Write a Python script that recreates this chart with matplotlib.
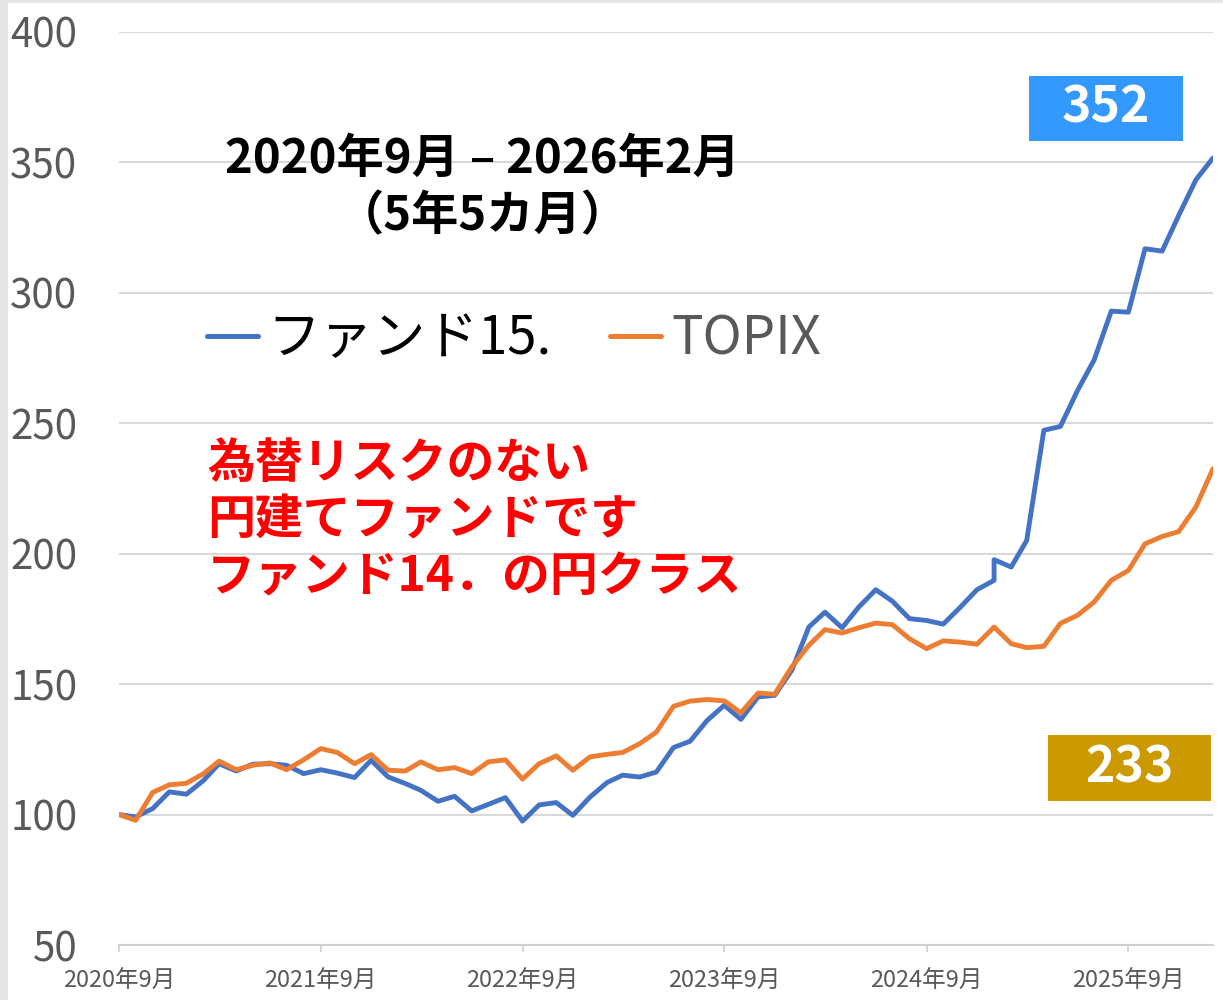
import matplotlib
matplotlib.use("Agg")
import matplotlib.pyplot as plt
import numpy as np
import pandas as pd
from matplotlib.lines import Line2D
from matplotlib.patches import Rectangle

plt.rcParams['font.family'] = ['Noto Sans CJK JP', 'DejaVu Sans']

# monthly points Sep 2020 - Feb 2026, Jan 2025 appears twice in the source data
dates = pd.date_range("2020-09-01", "2026-02-01", freq="MS")
dates = dates.insert(53, pd.Timestamp("2025-01-01"))

fund15 = [
    100.0, 99.1, 102.3, 108.7, 107.8, 113.1, 119.5, 116.7, 119.3, 119.5,
    118.9, 115.7, 117.2, 115.9, 114.2, 120.8, 114.4, 111.9, 109.3, 105.1,
    107.0, 101.4, 103.9, 106.5, 97.5, 103.7, 104.6, 99.7, 106.7, 112.3,
    115.1, 114.4, 116.3, 125.7, 128.1, 136.1, 141.9, 136.5, 145.1, 145.7,
    155.3, 171.9, 177.6, 171.6, 179.5, 186.2, 181.8, 175.1, 174.4, 173.0,
    179.5, 186.2, 189.8, 197.7, 194.9, 205.1, 247.3, 248.8, 262.6, 274.3,
    293.0, 292.6, 316.9, 316.0, 329.7, 343.3, 351.7,
]
topix = [
    100.0, 97.8, 108.5, 111.4, 112.0, 115.7, 120.5, 117.2, 118.9, 119.8,
    117.2, 121.0, 125.3, 123.8, 119.5, 123.0, 117.0, 116.7, 120.2, 117.2,
    118.0, 115.7, 120.2, 121.0, 113.6, 119.5, 122.5, 117.0, 122.1, 123.1,
    123.8, 127.2, 131.6, 141.5, 143.5, 144.1, 143.6, 139.0, 146.6, 146.1,
    156.6, 164.9, 170.9, 169.6, 171.6, 173.4, 172.8, 167.4, 163.6, 166.6,
    166.1, 165.3, 171.9, 171.9, 165.5, 164.0, 164.5, 173.3, 176.4, 181.5,
    189.8, 193.6, 203.8, 206.6, 208.5, 217.9, 232.6,
]

tick_dates = ["2020-09-01", "2021-09-01", "2022-09-01", "2023-09-01", "2024-09-01", "2025-09-01"]
tick_labels = ["2020年9月", "2021年9月", "2022年9月", "2023年9月", "2024年9月", "2025年9月"]
y_ticks = [50, 100, 150, 200, 250, 300, 350, 400]

series_names = ["ファンド15.", "TOPIX"]
blue = "#4472C4"
orange = "#ED7D31"
gray_txt = "#595959"

fig = plt.figure(figsize=(12.23, 10), dpi=100)
W, H = 1223, 1000

# thin gray frame on the left / top like the screenshot
fig.patches.append(Rectangle((0, 0), 8 / W, 1, transform=fig.transFigure,
                             facecolor="#e6e6e6", edgecolor="none", zorder=0))
fig.patches.append(Rectangle((0, 1 - 3 / H), 1, 3 / H, transform=fig.transFigure,
                             facecolor="#e6e6e6", edgecolor="none", zorder=0))

ax = fig.add_axes([119 / W, 55 / H, 1094 / W, 913 / H])

ax.plot(dates, fund15, color=blue, lw=3.5, solid_joinstyle="round", solid_capstyle="round", zorder=3)
ax.plot(dates, topix, color=orange, lw=3.5, solid_joinstyle="round", solid_capstyle="round", zorder=3)

ax.set_xlim(dates[0], dates[-1])
ax.set_ylim(50, 400)
ax.set_yticks(y_ticks)
ax.yaxis.grid(True, color="#d9d9d9", lw=1.5)
ax.set_axisbelow(True)

ax.set_xticks(pd.to_datetime(tick_dates))
ax.set_xticklabels(tick_labels)

for s in ["top", "right", "left"]:
    ax.spines[s].set_visible(False)
ax.spines["bottom"].set_color("#d0d0d0")
ax.spines["bottom"].set_linewidth(1.5)
ax.spines["bottom"].set_zorder(2)

ax.tick_params(axis="y", length=0, pad=30, labelsize=29, labelcolor=gray_txt)
ax.tick_params(axis="x", length=5, width=1.2, color="#d0d0d0", pad=13,
               labelsize=17, labelcolor=gray_txt)

# period title
ax.text(0.332, 0.83, "2020年9月 – 2026年2月\n（5年5カ月）", transform=ax.transAxes,
        ha="center", va="center", fontsize=34, fontweight="bold", color="black",
        linespacing=1.25)

# legend
handles = [Line2D([0], [0], color=blue, lw=3.6, solid_capstyle="round"),
           Line2D([0], [0], color=orange, lw=3.6, solid_capstyle="round")]
leg = ax.legend(handles, series_names, loc="center left", bbox_to_anchor=(0.08, 0.664),
                ncol=2, frameon=False, fontsize=38, handlelength=0.97,
                handletextpad=0.19, columnspacing=1.1, borderpad=0, borderaxespad=0)
leg.get_texts()[0].set_color("black")
leg.get_texts()[1].set_color(gray_txt)

# red note
ax.text(0.0804, 0.4655, "為替リスクのない\n円建てファンドです\nファンド14．の円クラス",
        transform=ax.transAxes, ha="left", va="center", fontsize=34.5,
        fontweight="bold", color="#FF0000", linespacing=1.2)

# end value boxes
boxes = [
    (fund15[-1], "#3399FF", (1029, 76, 1183, 141)),
    (topix[-1], "#CC9900", (1048, 735, 1211, 801)),
]
for val, col, (x0, y0, x1, y1) in boxes:
    ax0 = (x0 - 119) / 1094
    ax1 = (x1 - 119) / 1094
    ay0 = (945 - y1) / 913
    ay1 = (945 - y0) / 913
    ax.add_patch(Rectangle((ax0, ay0), ax1 - ax0, ay1 - ay0, transform=ax.transAxes,
                           facecolor=col, edgecolor="none", zorder=5, clip_on=False))
    ax.text((ax0 + ax1) / 2, (ay0 + ay1) / 2, f"{val:.0f}", transform=ax.transAxes,
            ha="center", va="center", fontsize=36, fontweight="bold", color="white", zorder=6)

fig.savefig("out.png", dpi=100)
